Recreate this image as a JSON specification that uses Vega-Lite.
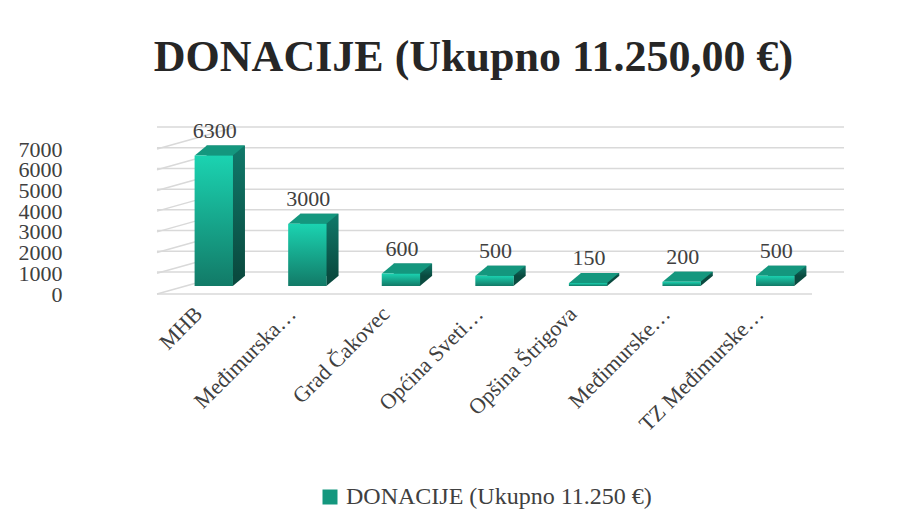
{
  "$schema": "https://vega.github.io/schema/vega-lite/v6.json",
  "width": 655,
  "height": 145,
  "padding": {"left": 18, "top": 35, "right": 10, "bottom": 10},
  "background": "white",
  "title": {
    "text": "DONACIJE (Ukupno 11.250,00 €)",
    "font": "Liberation Serif",
    "fontSize": 44,
    "fontWeight": "bold",
    "color": "#262626",
    "anchor": "middle",
    "frame": "group",
    "dx": -11,
    "offset": 40
  },
  "datasets": {
    "donacije": [
      {"kategorija": "MHB", "iznos": 6300, "serija": "DONACIJE (Ukupno 11.250 €)"},
      {"kategorija": "Međimurska…", "iznos": 3000, "serija": "DONACIJE (Ukupno 11.250 €)"},
      {"kategorija": "Grad Čakovec", "iznos": 600, "serija": "DONACIJE (Ukupno 11.250 €)"},
      {"kategorija": "Općina Sveti…", "iznos": 500, "serija": "DONACIJE (Ukupno 11.250 €)"},
      {"kategorija": "Opšina Štrigova", "iznos": 150, "serija": "DONACIJE (Ukupno 11.250 €)"},
      {"kategorija": "Međimurske…", "iznos": 200, "serija": "DONACIJE (Ukupno 11.250 €)"},
      {"kategorija": "TZ Međimurske…", "iznos": 500, "serija": "DONACIJE (Ukupno 11.250 €)"}
    ],
    "mreza": [
      {"iznos": 0}, {"iznos": 1000}, {"iznos": 2000}, {"iznos": 3000},
      {"iznos": 4000}, {"iznos": 5000}, {"iznos": 6000}, {"iznos": 7000}
    ]
  },
  "encoding": {
    "y": {
      "field": "iznos",
      "type": "quantitative",
      "scale": {"domain": [0, 7000], "nice": false},
      "axis": {
        "title": null,
        "domain": false,
        "ticks": false,
        "grid": false,
        "values": [0, 1000, 2000, 3000, 4000, 5000, 6000, 7000],
        "format": "d",
        "labelOverlap": false,
        "labelFont": "Liberation Serif",
        "labelFontSize": 22,
        "labelColor": "#404040",
        "labelPadding": 95
      }
    }
  },
  "layer": [
    {
      "data": {"name": "mreza"},
      "mark": {"type": "rule", "color": "#d9d9d9", "strokeWidth": 1.5, "x2Offset": 32, "y2Offset": -22},
      "encoding": {
        "x": {"datum": "MHB", "bandPosition": 0},
        "x2": {"datum": "MHB"},
        "y2": {"field": "iznos"}
      }
    },
    {
      "data": {"name": "mreza"},
      "mark": {"type": "rule", "color": "#d9d9d9", "strokeWidth": 1.5, "xOffset": 32, "x2Offset": 32, "yOffset": -22, "y2Offset": -22},
      "encoding": {}
    },
    {
      "data": {"name": "mreza"},
      "transform": [{"filter": "datum.iznos == 0"}],
      "mark": {"type": "rule", "color": "#d9d9d9", "strokeWidth": 1.5},
      "encoding": {}
    },
    {
      "data": {"name": "donacije"},
      "mark": {
        "type": "bar",
        "width": {"band": 0.41},
        "xOffset": 22, "x2Offset": 22, "yOffset": -18, "y2Offset": -18,
        "fill": {"gradient": "linear", "x1": 0, "y1": 0, "x2": 0, "y2": 1,
          "stops": [{"offset": 0, "color": "#10796a"}, {"offset": 1, "color": "#0a4a3f"}]}
      },
      "encoding": {
        "x": {
          "field": "kategorija",
          "type": "nominal",
          "sort": null,
          "scale": {"paddingInner": 0, "paddingOuter": 0},
          "axis": {
            "title": null,
            "domain": false,
            "ticks": false,
            "labelAngle": -45,
            "labelFont": "Liberation Serif",
            "labelFontSize": 22,
            "labelColor": "#404040",
            "labelPadding": 16,
            "labelOffset": -5,
            "labelLimit": 300
          }
        }
      }
    },
    {
      "data": {"name": "donacije"},
      "mark": {
        "type": "point",
        "shape": "M -1 -0.833 L -1 0.833 L 1 -0.833 Z",
        "size": 144,
        "filled": true,
        "opacity": 1,
        "strokeWidth": 0,
        "color": "#0a4a3f",
        "xOffset": 35,
        "yOffset": -13
      },
      "encoding": {
        "x": {"field": "kategorija", "type": "nominal", "sort": null},
        "y": {"datum": 0, "type": "quantitative", "title": null}
      }
    },
    {
      "data": {"name": "donacije"},
      "mark": {
        "type": "point",
        "shape": "M -1 0.2 L -0.52 -0.2 L 1 -0.2 L 0.52 0.2 Z",
        "size": 2500,
        "filled": true,
        "opacity": 1,
        "strokeWidth": 0,
        "xOffset": 16,
        "yOffset": -13
      },
      "encoding": {
        "x": {"field": "kategorija", "type": "nominal", "sort": null},
        "fill": {
          "field": "serija",
          "type": "nominal",
          "scale": {"range": ["#14977e"]},
          "legend": {
            "title": null,
            "orient": "bottom",
            "direction": "horizontal",
            "symbolType": "square",
            "symbolSize": 225,
            "symbolStrokeWidth": 0,
            "labelFont": "Liberation Serif",
            "labelFontSize": 24,
            "labelColor": "#404040",
            "labelLimit": 500,
            "offset": 50,
            "encode": {
              "symbols": {
                "update": {
                  "fill": {"value": {"gradient": "linear", "x1": 0, "y1": 0, "x2": 0, "y2": 1,
                    "stops": [{"offset": 0, "color": "#1bd3b1"}, {"offset": 1, "color": "#127a67"}]}}
                }
              }
            }
          }
        }
      }
    },
    {
      "data": {"name": "donacije"},
      "mark": {
        "type": "bar",
        "width": {"band": 0.41},
        "xOffset": 10, "x2Offset": 10, "yOffset": -8, "y2Offset": -8,
        "fill": {"gradient": "linear", "x1": 0, "y1": 0, "x2": 0, "y2": 1,
          "stops": [{"offset": 0, "color": "#1bd3b1"}, {"offset": 1, "color": "#127a67"}]}
      },
      "encoding": {
        "x": {"field": "kategorija", "type": "nominal", "sort": null}
      }
    },
    {
      "data": {"name": "donacije"},
      "mark": {
        "type": "text",
        "font": "Liberation Serif",
        "fontSize": 22,
        "color": "#404040",
        "baseline": "alphabetic",
        "xOffset": 11,
        "yOffset": -26
      },
      "encoding": {
        "x": {"field": "kategorija", "type": "nominal", "sort": null},
        "text": {"field": "iznos", "type": "quantitative", "format": "d"}
      }
    }
  ],
  "config": {
    "view": {"stroke": null},
    "legend": {"labelFont": "Liberation Serif", "layout": {"anchor": "middle"}}
  }
}
